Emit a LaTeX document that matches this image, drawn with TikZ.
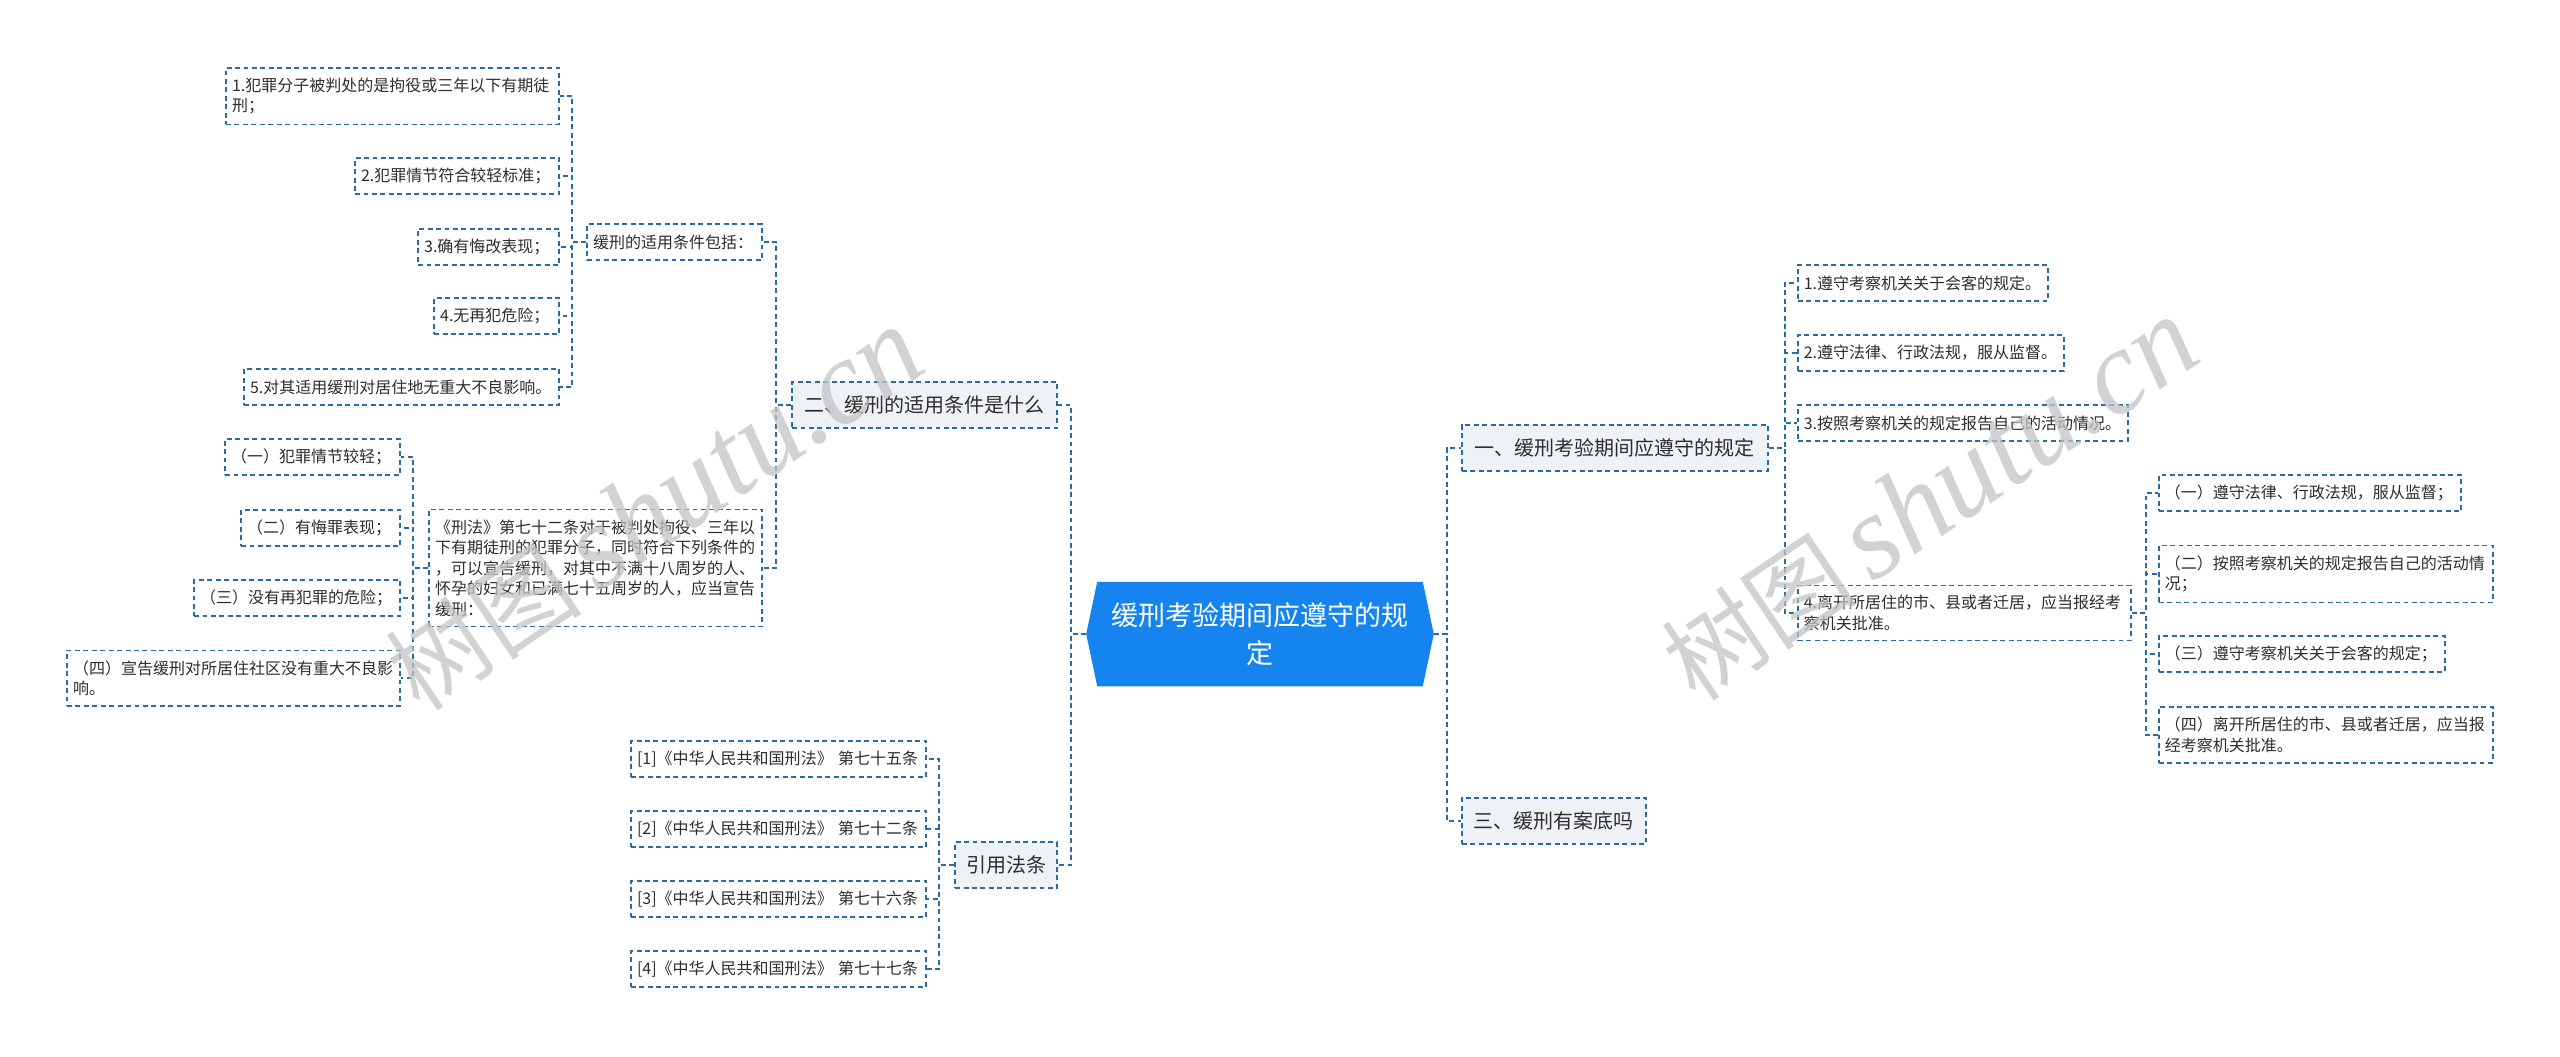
\documentclass[tikz,border=0pt]{standalone}
\usepackage{fontspec}
\newfontfamily\cjk{Noto Sans CJK SC}
\newfontfamily\wmserif{Liberation Serif}
\usetikzlibrary{calc}
\definecolor{rootblue}{RGB}{22,132,238}
\definecolor{linkblue}{RGB}{40,108,165}
\definecolor{topicgray}{RGB}{238,242,246}
\definecolor{txtgray}{RGB}{45,45,45}
\definecolor{wmgray}{RGB}{195,195,195}
\pgfdeclarelayer{bg}
\pgfsetlayers{bg,main}
\tikzset{
	leaf/.style={draw=linkblue, line width=0.45pt, dash pattern=on 1.4pt off 1pt, fill=white, text=txtgray,
		font=\cjk\fontsize{4.55}{5.83}\selectfont, align=left, inner xsep=0.06cm, inner ysep=0.1cm, minimum height=0.36cm},
	topic/.style={draw=linkblue, line width=0.45pt, dash pattern=on 1.4pt off 1pt, fill=topicgray, text=txtgray,
		font=\cjk\fontsize{5.69}{7}\selectfont, inner sep=0pt, minimum height=0.46cm},
	rootbox/.style={text=white, font=\cjk\fontsize{7.68}{10.8}\selectfont, align=center,
		minimum width=3.46cm, minimum height=1.03cm, inner sep=0pt},
	link/.style={draw=linkblue, line width=0.55pt, dash pattern=on 1.4pt off 1pt},
	wm/.style={text=wmgray, opacity=0.75, inner sep=0pt}
}
\begin{document}
\begin{tikzpicture}[x=0.01cm, y=-0.01cm]
	\useasboundingbox (0,0) rectangle (2560,1056);
	\begin{pgfonlayer}{bg}
	\fill[white] (0,0) rectangle (2560,1056);		%page
	\end{pgfonlayer}
	
	%centre
	\node[rootbox] (root) at (1260,634) {缓刑考验期间应遵守的规\\定};
	\begin{pgfonlayer}{bg}
	\fill[rootblue] ([xshift=0.11cm]root.north west) -- ([xshift=-0.11cm]root.north east) -- (root.east)
		-- ([xshift=-0.11cm]root.south east) -- ([xshift=0.11cm]root.south west) -- (root.west) -- cycle;
	\end{pgfonlayer}
	
	%left branches
	\node[topic, anchor=east, minimum width=2.65cm] (sec2) at (1058,405) {二、缓刑的适用条件是什么};
	\node[topic, anchor=east, minimum width=1.02cm] (cite) at (1058,865) {引用法条};
	\node[leaf, anchor=east, text width=1.63cm] (cond) at (763,242) {缓刑的适用条件包括：};
	\node[leaf, anchor=east, text width=3.21cm] (law) at (763,568) {《刑法》第七十二条对于被判处拘役、三年以\\下有期徒刑的犯罪分子，同时符合下列条件的\\，可以宣告缓刑，对其中不满十八周岁的人、\\怀孕的妇女和已满七十五周岁的人，应当宣告\\缓刑：};
	
	\node[leaf, anchor=east, text width=3.21cm] (c1) at (560,96) {1.犯罪分子被判处的是拘役或三年以下有期徒\\刑；};
	\node[leaf, anchor=east, text width=1.92cm] (c2) at (560,176) {2.犯罪情节符合较轻标准；};
	\node[leaf, anchor=east, text width=1.29cm] (c3) at (560,247) {3.确有悔改表现；};
	\node[leaf, anchor=east, text width=1.13cm] (c4) at (560,316) {4.无再犯危险；};
	\node[leaf, anchor=east, text width=3.03cm] (c5) at (560,387) {5.对其适用缓刑对居住地无重大不良影响。};
	
	\node[leaf, anchor=east, text width=1.63cm] (k1) at (401,457) {（一）犯罪情节较轻；};
	\node[leaf, anchor=east, text width=1.47cm] (k2) at (401,528) {（二）有悔罪表现；};
	\node[leaf, anchor=east, text width=1.94cm] (k3) at (401,598) {（三）没有再犯罪的危险；};
	\node[leaf, anchor=east, text width=3.21cm] (k4) at (401,678) {（四）宣告缓刑对所居住社区没有重大不良影\\响。};
	
	\foreach \n/\art/\yy in {1/五/759, 2/二/829, 3/六/899, 4/七/969}
	\node[leaf, anchor=east, text width=2.83cm] (ref\n) at (927,\yy) {[\n]《中华人民共和国刑法》~第七十\art{}条};
	
	%right branches
	\node[topic, anchor=west, minimum width=3.06cm] (sec1) at (1461,448) {一、缓刑考验期间应遵守的规定};
	\node[topic, anchor=west, minimum width=1.84cm] (sec3) at (1461,821) {三、缓刑有案底吗};
	
	\node[leaf, anchor=west, text width=2.38cm] (d1) at (1797,283) {1.遵守考察机关关于会客的规定。};
	\node[leaf, anchor=west, text width=2.54cm] (d2) at (1797,353) {2.遵守法律、行政法规，服从监督。};
	\node[leaf, anchor=west, text width=3.18cm] (d3) at (1797,423) {3.按照考察机关的规定报告自己的活动情况。};
	\node[leaf, anchor=west, text width=3.21cm] (d4) at (1797,613) {4.离开所居住的市、县或者迁居，应当报经考\\察机关批准。};
	
	\node[leaf, anchor=west, text width=2.90cm] (e1) at (2158,493) {（一）遵守法律、行政法规，服从监督；};
	\node[leaf, anchor=west, text width=3.22cm] (e2) at (2158,574) {（二）按照考察机关的规定报告自己的活动情\\况；};
	\node[leaf, anchor=west, text width=2.74cm] (e3) at (2158,654) {（三）遵守考察机关关于会客的规定；};
	\node[leaf, anchor=west, text width=3.22cm] (e4) at (2158,735) {（四）离开所居住的市、县或者迁居，应当报\\经考察机关批准。};
	
	%connectors
	\foreach \c in {sec2,cite} \draw[link] (root.west) -- ++(-15,0) |- (\c.east);
	\foreach \c in {sec1,sec3} \draw[link] (root.east) -- ++(13,0) |- (\c.west);
	\foreach \c in {cond,law} \draw[link] (sec2.west) -- ++(-15,0) |- (\c.east);
	\foreach \c in {c1,c2,c3,c4,c5} \draw[link] (cond.west) -- ++(-14,0) |- (\c.east);
	\foreach \c in {k1,k2,k3,k4} \draw[link] (law.west) -- ++(-15,0) |- (\c.east);
	\foreach \c in {ref1,ref2,ref3,ref4} \draw[link] (cite.west) -- ++(-15,0) |- (\c.east);
	\foreach \c in {d1,d2,d3,d4} \draw[link] (sec1.east) -- ++(16,0) |- (\c.west);
	\foreach \c in {e1,e2,e3,e4} \draw[link] (d4.east) -- ++(14,0) |- (\c.west);
	
	%watermarks
	\node[wm, rotate=34] (wmleft) at (655,510) {\cjk\fontsize{28}{28}\selectfont 树图\,{\wmserif\itshape\fontsize{34}{34}\selectfont shutu.cn}};
	\node[wm, rotate=34] (wmright) at (1930,500) {\cjk\fontsize{28}{28}\selectfont 树图\,{\wmserif\itshape\fontsize{34}{34}\selectfont shutu.cn}};
\end{tikzpicture}
\end{document}
